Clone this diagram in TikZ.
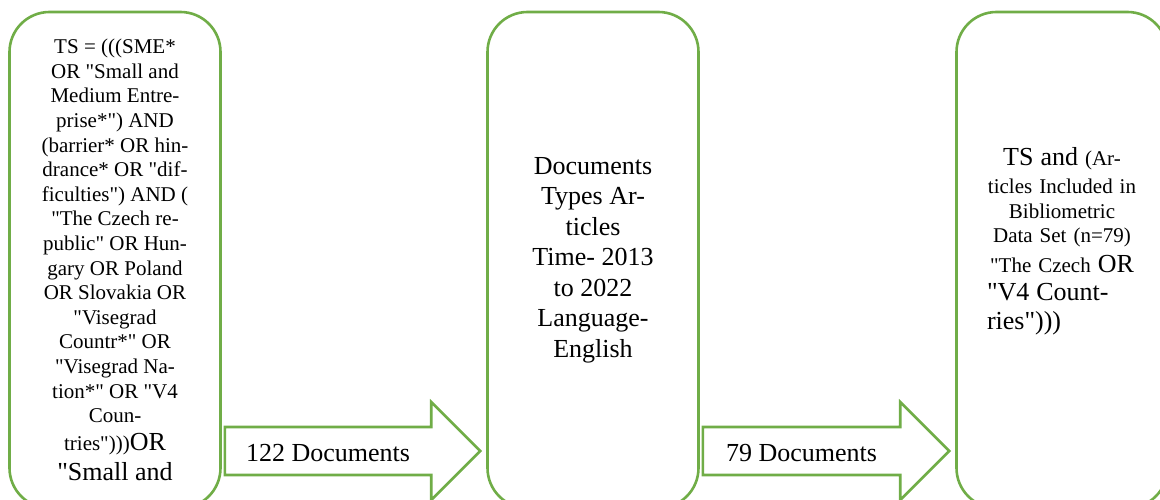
\documentclass[tikz,border=0pt]{standalone}
\usepackage{fontspec}
\setmainfont{Liberation Serif}[Ligatures=TeXOff]
\usetikzlibrary{positioning,calc}
\definecolor{leafgreen}{HTML}{70AD47}

\begin{document}
\begin{tikzpicture}[x=1pt,y=-1pt,
    stage/.style={draw=leafgreen,line width=2.6pt,rounded corners=40pt,minimum width=211pt,minimum height=496pt,align=center,inner sep=0pt},
    flow/.style={draw=leafgreen,line width=2.6pt,fill=white},
    small/.style={font=\fontsize{21}{24.6}\selectfont},
    big/.style={font=\fontsize{26}{30.5}\selectfont}]
        \useasboundingbox (0,0) rectangle (1160,500);
        \clip (0,0) rectangle (1160,500);
        \node[stage,small] (query) at (115,260) {TS = (((SME*\\OR "Small and\\Medium Entre-\\prise*") AND\\(barrier* OR hin-\\drance* OR "dif-\\ficulties") AND (\\"The Czech re-\\public" OR Hun-\\gary OR Poland\\OR Slovakia OR\\"Visegrad\\Countr*" OR\\"Visegrad Na-\\tion*" OR "V4\\Coun-\\[3.4pt]tries"))){\fontsize{26}{30}\selectfont OR}\\[5.4pt]{\fontsize{26}{30}\selectfont "Small and}};
        \node[stage,big,right=264.4pt of query] (filter) {Documents\\Types Ar-\\ticles\\Time- 2013\\to 2022\\Language-\\English};
        \node[stage,right=255.4pt of filter] (result) {};
        \node[small,text width=150pt,align=center,inner sep=0pt] (resulttext) at ($(result.center)+(0,-18.5)$) {{\fontsize{26}{28}\selectfont TS and }(Ar-\\[3pt]ticles Included in\\Bibliometric\\Data Set (n=79)\\[5pt]"The Czech {\fontsize{26}{28}\selectfont OR}\\[4pt]\makebox[\linewidth][l]{\fontsize{26}{28}\selectfont "V4 Count-}\\[4pt]\makebox[\linewidth][l]{\fontsize{26}{28}\selectfont ries")))}};
        \coordinate (q) at (query.east |- 0,451);
        \coordinate (f) at (filter.west |- 0,451);
        \coordinate (g) at (filter.east |- 0,451);
        \coordinate (r) at (result.west |- 0,451);
        \draw[flow] ($(q)+(3,-24)$) -- ($(f)+(-55,-24)$) -- ($(f)+(-55,-49)$) -- ($(f)+(-6,0)$) -- ($(f)+(-55,49)$) -- ($(f)+(-55,24)$) -- ($(q)+(3,24)$) -- cycle;
        \draw[flow] ($(g)+(3,-24)$) -- ($(r)+(-55,-24)$) -- ($(r)+(-55,-49)$) -- ($(r)+(-6,0)$) -- ($(r)+(-55,49)$) -- ($(r)+(-55,24)$) -- ($(g)+(3,24)$) -- cycle;
        \node[big] (n122) at ($(q)!0.5!(f)+(-26,2)$) {122 Documents};
        \node[big] (n79) at ($(g)!0.5!(r)+(-26,2)$) {79 Documents};
      \end{tikzpicture}
\end{document}
